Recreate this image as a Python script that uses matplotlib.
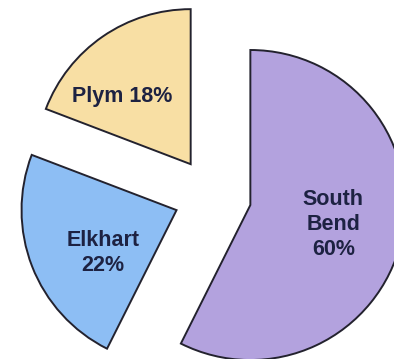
import numpy as np
import matplotlib
matplotlib.use("Agg")
import matplotlib.pyplot as plt

# Data (slice shares; labels as printed)
categories = ["South Bend", "Elkhart", "Plym"]
shares = [57.4, 23.4, 19.2]
label_texts = ["South\nBend\n60%", "Elkhart\n22%", "Plym 18%"]
colors = ["#B3A2DE", "#8DBEF4", "#F8DFA4"]

explode = [0.25, 0.25, 0.25]
label_dist = [0.55, 0.55, 0.62]
label_rot = [0.0, 9.0, 10.8]

fig = plt.figure(figsize=(3.94, 3.59), dpi=100)
ax = fig.add_axes([0, 0, 1, 1])
wedges, _ = ax.pie(shares, colors=colors, startangle=90, counterclock=False,
                   explode=explode, radius=1.0,
                   wedgeprops=dict(edgecolor="#23222e", linewidth=1.4))

for w, txt, d, rot in zip(wedges, label_texts, label_dist, label_rot):
    mid = np.deg2rad((w.theta1 + w.theta2) / 2 + rot)
    cx, cy = w.center
    ax.text(cx + d * np.cos(mid), cy + d * np.sin(mid), txt,
            ha="center", va="center", fontsize=15.5, fontweight="bold",
            family="Liberation Sans", color="#1d2242", linespacing=1.25)

ax.set_xlim(-1.372, 1.170)
ax.set_ylim(-1.051, 1.265)
ax.set_aspect("auto")
ax.axis("off")
fig.savefig("out.png", dpi=100)
